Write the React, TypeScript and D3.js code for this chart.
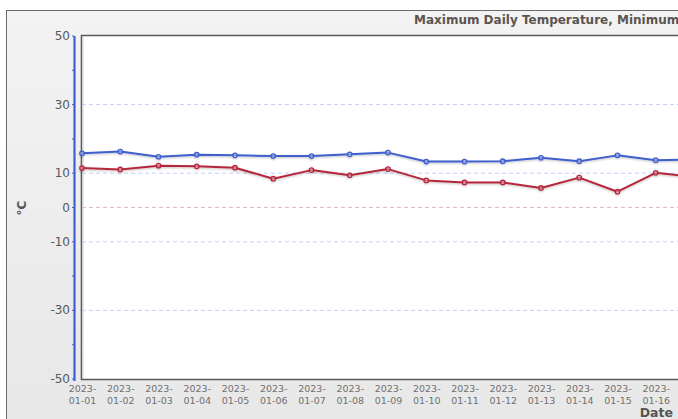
import React from "react";
import * as d3 from "d3";

// Data
const dates = [
    "2023-01-01", "2023-01-02", "2023-01-03", "2023-01-04", "2023-01-05", "2023-01-06",
    "2023-01-07", "2023-01-08", "2023-01-09", "2023-01-10", "2023-01-11", "2023-01-12",
    "2023-01-13", "2023-01-14", "2023-01-15", "2023-01-16", "2023-01-17",
];
const maxTemp = [15.8, 16.3, 14.8, 15.4, 15.2, 15.0, 15.0, 15.5, 16.0, 13.4, 13.4, 13.5, 14.5, 13.5, 15.2, 13.8, 14.0];
const minTemp = [11.5, 11.1, 12.2, 12.0, 11.6, 8.4, 10.9, 9.4, 11.2, 7.9, 7.3, 7.3, 5.7, 8.7, 4.6, 10.1, 8.9];

const yTickLabels = [50, 30, 10, 0, -10, -30, -50];
const yGridValues = [30, 10, -10, -30];
const yMinorTicks = [40, 20, -20, -40];

const TITLE = "Maximum Daily Temperature, Minimum Daily Temperature";
const FONT = "'DejaVu Sans', Verdana, sans-serif";

const W = 678;
const H = 419;

const App: React.FC = () => {
    const M = { top: 36, left: 82, bottom: 379 };

    const x = d3.scalePoint<string>()
        .domain(dates)
        .range([M.left, M.left + (dates.length - 1) * 38.25]);

    const y = d3.scaleLinear().domain([-50, 50]).range([M.bottom, M.top]);

    const line = d3.line<number>()
        .x((_d, i) => x(dates[i])!)
        .y((d) => y(d));

    const series = [
        { values: maxTemp, color: "#3f5fcc" },
        { values: minTemp, color: "#b5283c" },
    ];

    // labels whose text would start past the window edge are not drawn (as in the reference)
    const visibleDates = dates.filter((d) => x(d)! + 14 < W);

    return (
        <div style={{ width: W, height: H, overflow: "hidden" }}>
            <style>{`body{margin:0}`}</style>
            <svg width={W} height={H} style={{ display: "block" }}>
                <defs>
                    <linearGradient id="panel-bg" x1="0" y1="0" x2="0" y2="1">
                        <stop offset="0" stopColor="#f3f3f3" />
                        <stop offset="1" stopColor="#e7e7e7" />
                    </linearGradient>
                    <filter id="line-shadow" x="-5%" y="-50%" width="110%" height="200%">
                        <feGaussianBlur in="SourceAlpha" stdDeviation="0.8" />
                        <feOffset dx="0" dy="1" result="o" />
                        <feComponentTransfer><feFuncA type="linear" slope="0.25" /></feComponentTransfer>
                        <feMerge>
                            <feMergeNode />
                            <feMergeNode in="SourceGraphic" />
                        </feMerge>
                    </filter>
                </defs>

                {/* outer panel */}
                <rect x={6.5} y={10.5} width={W + 20} height={H + 20} fill="url(#panel-bg)" stroke="#6a6a6a" />

                {/* title */}
                <text x={414} y={24} fontFamily={FONT} fontSize={12} fontWeight="bold" fill="#5b5550">
                    {TITLE}
                </text>

                {/* plot area */}
                <rect x={81} y={35} width={W} height={M.bottom - 35} fill="#ffffff" />

                {/* grid */}
                {yGridValues.map((v) => (
                    <line key={v} x1={82} x2={W + 10} y1={y(v)} y2={y(v)}
                        stroke="#c6cff4" strokeWidth={1} strokeDasharray="4 3" />
                ))}
                <line x1={82} x2={W + 10} y1={y(0)} y2={y(0)}
                    stroke="#dbbccb" strokeWidth={1.2} strokeDasharray="4 3" />

                {/* frame */}
                <path d={`M${W + 10},35.5 H81.5 V${M.bottom + 0.5} H${W + 10}`} fill="none" stroke="#5a5a5a" strokeWidth={1.6} />
                <path d={`M83,37 V${M.bottom - 1}`} fill="none" stroke="#d8d8d8" strokeWidth={1} />

                {/* y axis */}
                <line x1={74.5} x2={74.5} y1={M.top} y2={M.bottom + 2} stroke="#3f5fd6" strokeWidth={2.2} />
                {yMinorTicks.map((v) => (
                    <line key={v} x1={72} x2={74} y1={y(v)} y2={y(v)} stroke="#3f5fd6" strokeWidth={1} />
                ))}
                {yTickLabels.map((v) => (
                    <g key={v}>
                        <line x1={72} x2={74} y1={y(v)} y2={y(v)} stroke="#3f5fd6" strokeWidth={1} />
                        <text x={70} y={y(v) + 4} textAnchor="end" fontFamily={FONT} fontSize={12} fill="#585858">
                            {v}
                        </text>
                    </g>
                ))}
                <text transform={`translate(26,208) rotate(-90)`} textAnchor="middle" fontFamily={FONT}
                    fontSize={12} fontWeight="bold" fill="#555">
                    °C
                </text>

                {/* x axis labels */}
                {visibleDates.map((d) => {
                    const [yr, ...rest] = d.split("-");
                    return (
                        <text key={d} x={x(d)! + 0.5} y={392} textAnchor="middle" fontFamily={FONT}
                            fontSize={9.5} fill="#707070">
                            <tspan x={x(d)! + 0.5}>{yr}-</tspan>
                            <tspan x={x(d)! + 0.5} dy={12}>{rest.join("-")}</tspan>
                        </text>
                    );
                })}
                <text x={673} y={417} textAnchor="end" fontFamily={FONT} fontSize={12.5} fontWeight="bold" fill="#555">
                    Date
                </text>

                {/* series */}
                {series.map((s, si) => (
                    <g key={si} filter="url(#line-shadow)">
                        <path d={line(s.values)!} fill="none" stroke={s.color} strokeWidth={2} strokeLinejoin="round" />
                        {s.values.map((v, i) => (
                            <circle key={i} cx={x(dates[i])!} cy={y(v)} r={2.2}
                                fill="#ffffff" fillOpacity={0.35} stroke={s.color} strokeWidth={1.3} />
                        ))}
                    </g>
                ))}
            </svg>
        </div>
    );
};

export default App;
